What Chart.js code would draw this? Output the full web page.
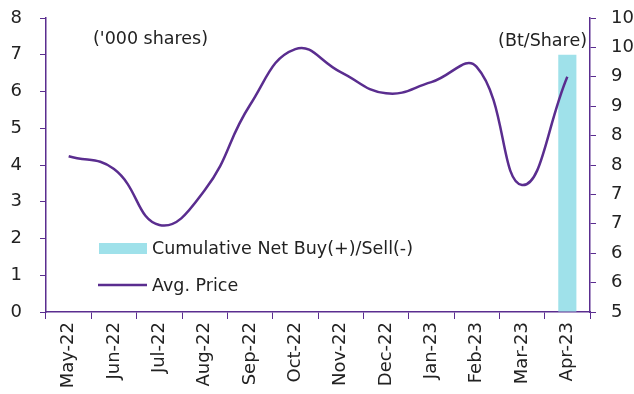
<!DOCTYPE html>
<html lang="en">
<head>
    <meta charset="UTF-8">
    <title>Net Buy vs Avg. Price</title>
    <script src="https://cdn.jsdelivr.net/npm/chart.js"></script>
    <style>
        body {
            margin: 0;
            padding: 0;
            background: #ffffff;
        }
        #chart {
            display: block;
        }
    </style>
</head>
<body>
    <canvas id="chart" width="634" height="394"></canvas>

    <script>
        // monthly data
        const months = ["May-22", "Jun-22", "Jul-22", "Aug-22", "Sep-22", "Oct-22",
                        "Nov-22", "Dec-22", "Jan-23", "Feb-23", "Mar-23", "Apr-23"];
        const netBuy = [null, null, null, null, null, null, null, null, null, null, null, 7.0];  // '000 shares
        const avgPrice = [7.65, 7.43, 6.48, 7.07, 8.52, 9.47, 9.08, 8.72, 8.91, 9.17, 7.16, 9.0]; // Bt/share

        const purple = "#5a2d8f";
        const cyan = "#9fe1ea";
        const font = "'DejaVu Sans', Verdana, sans-serif";

        // legend + unit captions drawn inside the plot area
        const overlay = {
            id: "overlay",
            afterDraw(chart) {
                const ctx = chart.ctx;
                ctx.save();
                ctx.font = "17.5px " + font;
                ctx.fillStyle = "#222";
                ctx.textBaseline = "middle";
                ctx.textAlign = "left";
                ctx.fillText("('000 shares)", 93, 39);
                ctx.textAlign = "right";
                ctx.fillText("(Bt/Share)", 587, 41);

                ctx.textAlign = "left";
                ctx.fillStyle = cyan;
                ctx.fillRect(99, 243, 48, 11);
                ctx.fillStyle = "#222";
                ctx.fillText(chart.data.datasets[0].label, 152, 249);

                ctx.strokeStyle = purple;
                ctx.lineWidth = 2.5;
                ctx.beginPath();
                ctx.moveTo(98, 285);
                ctx.lineTo(147, 285);
                ctx.stroke();
                ctx.fillText(chart.data.datasets[1].label, 152, 286);
                ctx.restore();
            }
        };

        // fixed axis widths; no extra label padding above the plot
        function fixWidth(w) {
            return function (scale) {
                scale.width = w;
                scale.paddingTop = 0;
                scale.paddingBottom = 0;
            };
        }

        new Chart(document.getElementById("chart"), {
            type: "bar",
            data: {
                labels: months,
                datasets: [
                    {
                        label: "Cumulative Net Buy(+)/Sell(-)",
                        data: netBuy,
                        backgroundColor: cyan,
                        yAxisID: "y",
                        categoryPercentage: 1.0,
                        barPercentage: 0.4,
                        order: 2
                    },
                    {
                        type: "line",
                        label: "Avg. Price",
                        data: avgPrice,
                        borderColor: purple,
                        borderWidth: 2.5,
                        pointRadius: 0,
                        tension: 0.45,
                        yAxisID: "y1",
                        order: 1
                    }
                ]
            },
            options: {
                responsive: false,
                animation: false,
                layout: { padding: { top: 18, left: 0, right: 0, bottom: 0 } },
                plugins: {
                    legend: { display: false },
                    tooltip: { enabled: false }
                },
                scales: {
                    x: {
                        offset: true,
                        grid: {
                            offset: true,
                            drawOnChartArea: false,
                            color: purple,
                            tickLength: 7
                        },
                        border: { color: purple, width: 1.5 },
                        ticks: {
                            color: "#222",
                            font: { family: font, size: 18 },
                            minRotation: 90,
                            maxRotation: 90,
                            padding: 3
                        },
                        afterFit(scale) {
                            scale.height = 82;
                            scale.paddingLeft = 0;
                            scale.paddingRight = 0;
                        }
                    },
                    y: {
                        position: "left",
                        min: 0,
                        max: 8,
                        ticks: {
                            stepSize: 1,
                            color: "#222",
                            font: { family: font, size: 18 },
                            padding: 18
                        },
                        grid: {
                            drawOnChartArea: false,
                            color: purple,
                            tickLength: 6
                        },
                        border: { color: purple, width: 1.5 },
                        afterFit: fixWidth(46)
                    },
                    y1: {
                        position: "right",
                        min: 5,
                        max: 10,
                        ticks: {
                            stepSize: 0.5,
                            color: "#222",
                            font: { family: font, size: 18 },
                            padding: 15,
                            callback: v => Math.round(v)
                        },
                        grid: {
                            drawOnChartArea: false,
                            color: purple,
                            tickLength: 6
                        },
                        border: { color: purple, width: 1.5 },
                        afterFit: fixWidth(44)
                    }
                }
            },
            plugins: [overlay]
        });
    </script>
</body>
</html>
